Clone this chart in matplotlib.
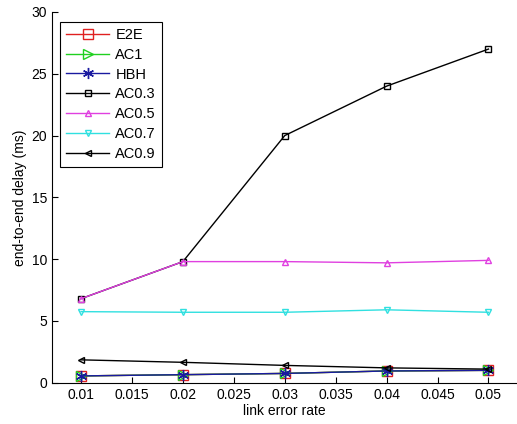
import numpy as np
import matplotlib.pyplot as plt

plt.rcParams['font.family'] = ['Liberation Sans', 'DejaVu Sans']

error_rate = [0.01, 0.02, 0.03, 0.04, 0.05]

e2e = [0.55, 0.65, 0.75, 0.95, 1.0]
ac1 = [0.55, 0.65, 0.75, 0.95, 1.0]
hbh = [0.55, 0.65, 0.75, 0.95, 1.0]
ac03 = [6.8, 9.8, 20.0, 24.0, 27.0]
ac05 = [6.8, 9.8, 9.8, 9.7, 9.9]
ac07 = [5.75, 5.7, 5.7, 5.9, 5.7]
ac09 = [1.85, 1.65, 1.4, 1.2, 1.1]

x_ticks = [0.01, 0.015, 0.02, 0.025, 0.03, 0.035, 0.04, 0.045, 0.05]
y_ticks = [0, 5, 10, 15, 20, 25, 30]

fig = plt.figure(figsize=(5.17, 4.24), dpi=100)
ax = fig.add_axes([0.1006, 0.0974, 0.8994, 0.8743])

ax.plot(error_rate, e2e, color='#e02020', marker='s', ms=7, mfc='none', lw=1, label='E2E')
ax.plot(error_rate, ac1, color='#20d020', marker='>', ms=7, mfc='none', lw=1, label='AC1')
ax.plot(error_rate, hbh, color='#1a1aa0', marker=(6, 2, 0), ms=8, lw=1, label='HBH')
ax.plot(error_rate, ac03, color='black', marker='s', ms=5, mfc='none', lw=1, label='AC0.3')
ax.plot(error_rate, ac05, color='#e040e0', marker='^', ms=5, mfc='none', lw=1, label='AC0.5')
ax.plot(error_rate, ac07, color='#30e0e0', marker='v', ms=5, mfc='none', lw=1, label='AC0.7')
ax.plot(error_rate, ac09, color='black', marker='<', ms=5, mfc='none', lw=1, label='AC0.9')

ax.set_xlim(0.00715, 0.0528)
ax.set_ylim(0, 30)
ax.set_xticks(x_ticks)
ax.set_xticklabels([f"{t:g}" for t in x_ticks])
ax.set_yticks(y_ticks)
ax.tick_params(direction='in', labelsize=10, length=4)
ax.spines['top'].set_visible(False)
ax.spines['right'].set_visible(False)

ax.set_xlabel('link error rate', fontsize=10, labelpad=2)
ax.set_ylabel('end-to-end delay (ms)', fontsize=10, labelpad=3)

leg = ax.legend(loc='upper left', bbox_to_anchor=(0.017, 0.973), borderaxespad=0,
                fontsize=10.5, fancybox=False, framealpha=1, edgecolor='black',
                handlelength=3, handletextpad=0.4, labelspacing=0.4,
                borderpad=0.4)
leg.get_frame().set_linewidth(0.8)

fig.savefig('out.png', dpi=100)
